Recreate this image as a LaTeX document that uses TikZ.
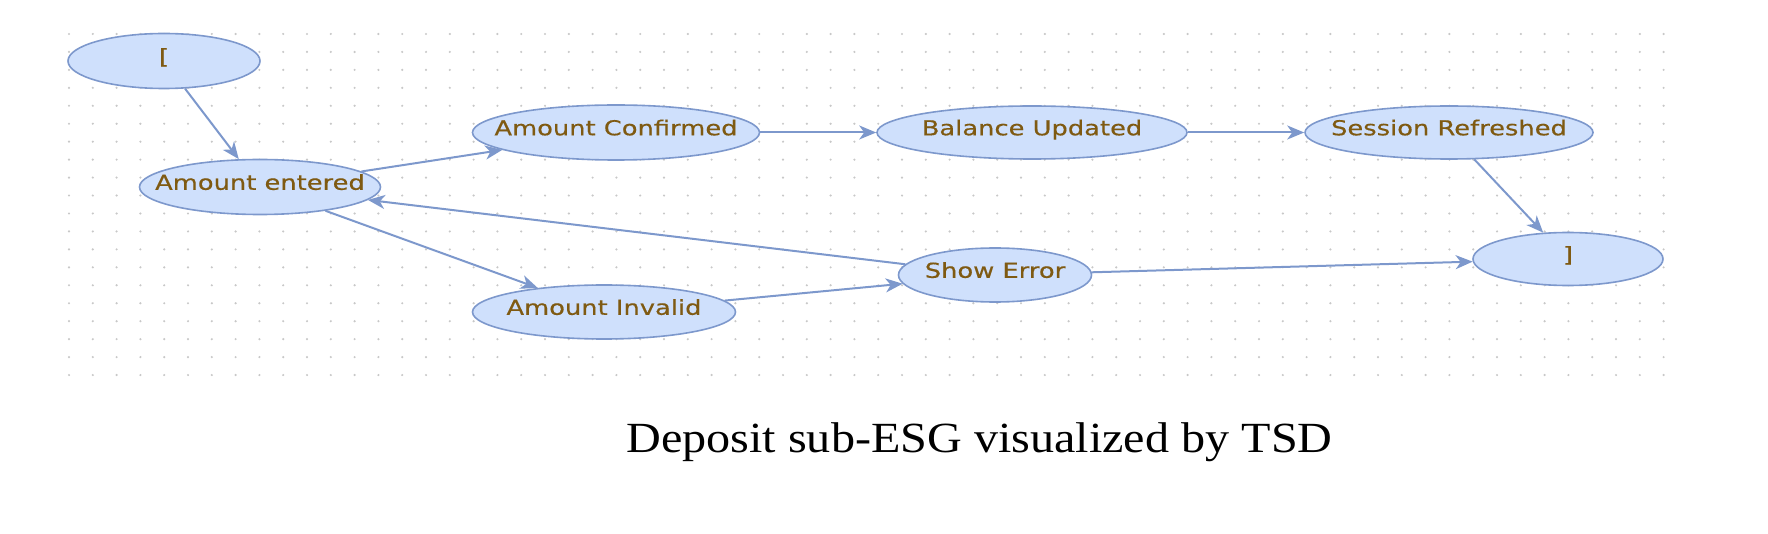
\documentclass[tikz,border=0pt]{standalone}
\usepackage{fontspec}
\setmainfont{Liberation Serif}
\newfontfamily\statefont[FakeStretch=1.25, FakeBold=0.4]{DejaVu Sans}
\newfontfamily\captionfont[FakeStretch=1.12]{Liberation Serif}
\usetikzlibrary{arrows.meta,shapes.geometric}
\definecolor{statefill}{HTML}{CFE0FC}
\definecolor{stateline}{HTML}{7D98CC}
\definecolor{statetext}{HTML}{7F5A12}
\definecolor{griddot}{HTML}{C8C8C8}
\newcommand{\lbl}[1]{\makebox[0pt]{\smash{\raisebox{-1.4pt}{#1}}}}

\begin{document}
\begin{tikzpicture}[x=0.5pt, y=-0.5pt,
    state/.style={ellipse, draw=stateline, line width=0.8pt, fill=statefill,
      inner sep=0pt, text=statetext, font=\statefont\fontsize{10.3}{12}\selectfont},
    edge/.style={draw=stateline, line width=1pt,
      -{Stealth[length=8.5pt, width=7pt, inset=2.5pt]}}]
    \useasboundingbox (0,0) rectangle (1768,534);
    \foreach \i in {0,...,67}
    \foreach \j in {0,...,19}
    \fill[griddot] (69+\i*23.8, 34+\j*17.95) circle (0.6pt);
    \node[state, minimum width=96pt, minimum height=27.5pt] (start) at (164,61) {\lbl{[}};
    \node[state, minimum width=120.5pt, minimum height=27.5pt] (entered) at (260,187) {\lbl{Amount entered}};
    \node[state, minimum width=143.5pt, minimum height=27.5pt] (confirmed) at (616,132.5) {\lbl{Amount Confirmed}};
    \node[state, minimum width=155pt, minimum height=26.5pt] (balance) at (1032,132.5) {\lbl{Balance Updated}};
    \node[state, minimum width=144pt, minimum height=26.5pt] (session) at (1449,132.5) {\lbl{Session Refreshed}};
    \node[state, minimum width=95pt, minimum height=26.5pt] (end) at (1568,259) {\lbl{]}};
    \node[state, minimum width=96.5pt, minimum height=27pt] (showerr) at (995,275) {\lbl{Show Error}};
    \node[state, minimum width=131.5pt, minimum height=27pt] (invalid) at (604,312) {\lbl{Amount Invalid}};
    \draw[edge] (start) -- (entered);
    \draw[edge] (entered) -- (confirmed);
    \draw[edge] (confirmed) -- (balance);
    \draw[edge] (balance) -- (session);
    \draw[edge] (session) -- (end);
    \draw[edge] (entered) -- (invalid);
    \draw[edge] (invalid) -- (showerr);
    \draw[edge] (showerr) -- (entered);
    \draw[edge] (showerr) -- (end);
    \node[font=\captionfont\fontsize{21.5}{26}\selectfont, anchor=base] (caption) at (979.5,452) {Deposit sub-ESG visualized by TSD};
\end{tikzpicture}
\end{document}
